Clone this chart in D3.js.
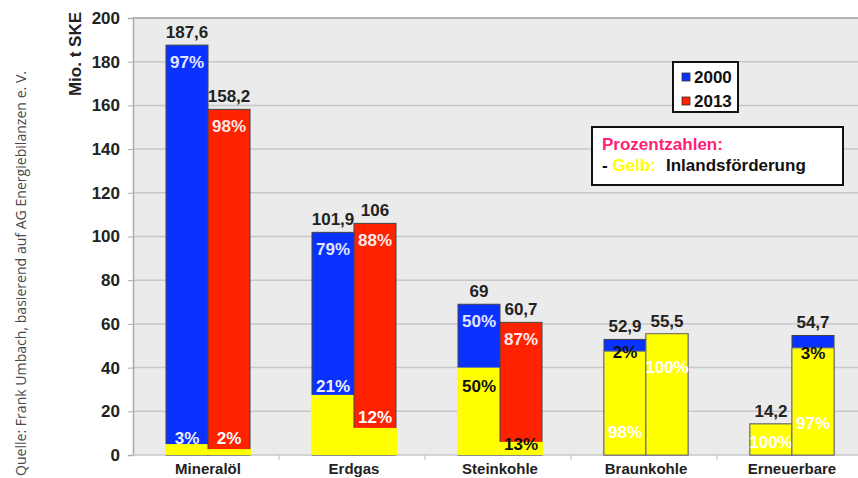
<!DOCTYPE html>
<html><head><meta charset="utf-8">
<script src="https://cdn.jsdelivr.net/npm/d3@7"></script>
<style>html,body{margin:0;padding:0;background:#fff;overflow:hidden}</style>
</head><body>
<svg id="c" width="858" height="478"></svg>
<script>
const categories = ["Mineralöl","Erdgas","Steinkohle","Braunkohle","Erneuerbare"];
const years = ["2000","2013"];
const total2000 = [187.6, 101.9, 69, 52.9, 14.2];
const total2013 = [158.2, 106, 60.7, 55.5, 54.7];
// yellow (domestic production) segment heights
const domestic2000 = [5, 27.5, 40, 47.5, 14.2];
const domestic2013 = [2.7, 12.4, 6, 55.5, 49];
const importPct2000 = ["97%","79%","50%","2%",""];
const importPct2013 = ["98%","88%","87%","","3%"];
const domesticPct2000 = ["3%","21%","50%","98%","100%"];
const domesticPct2013 = ["2%","12%","13%","100%","97%"];
const valueLabels2000 = ["187,6","101,9","69","52,9","14,2"];
const valueLabels2013 = ["158,2","106","60,7","55,5","54,7"];
const yTicks = [0,20,40,60,80,100,120,140,160,180,200];
// colour key used for the upper (import) part of each 2013 bar, as in the picture
const importColorKey2013 = ["2013","2013","2013","2013","2000"];

// annotation anchors (data units) for the percentage labels
const domLabelAt = {"2000":[7.8,31.6,31.6,10.5,5.9], "2013":[7.8,17.4,5,40.3,14.6]};
const domLabelColor = {"2000":["#eef","#eef","#111","#fff","#fff"], "2013":["#fff","#fff","#111","#fff","#fff"]};
const impLabelAt = {"2000":[null,null,null,47.1,null], "2013":[null,null,null,null,46.7]};

const colors = {"2000":"#0a32ff","2013":"#ff2200"};
const yellow = "#ffff00";
const FONT = "'Liberation Sans', Arial, sans-serif";

const svg = d3.select("#c");
const L = 133, T = 18, B = 455, R = 858;
const y = d3.scaleLinear().domain([0,200]).range([B, T]);
const x = d3.scaleBand().domain(categories).range([135, 865]).paddingInner(0).paddingOuter(0);
const xi = d3.scaleBand().domain(years).range([0, x.bandwidth()]).paddingInner(0).paddingOuter(0.738);

// plot background
svg.append("rect").attr("x", L).attr("y", T).attr("width", R-L).attr("height", B-T).attr("fill", "#ebebeb");

// gridlines
svg.append("g").selectAll("line").data(yTicks.filter(d=>d>0)).join("line")
  .attr("x1", L).attr("x2", R).attr("y1", d=>y(d)).attr("y2", d=>y(d))
  .attr("stroke", d=> d===200 ? "#b4b4b4" : "#c8c8c8").attr("stroke-width", d=> d===200 ? 2 : 1.5);

// y axis
const yAxis = d3.axisLeft(y).tickValues(yTicks).tickSize(5).tickPadding(8);
const ga = svg.append("g").attr("transform", `translate(${L},0)`).call(yAxis);
ga.select(".domain").attr("stroke", "#aaa").attr("stroke-width", 1.5);
ga.selectAll(".tick line").attr("stroke", "#aaa");
ga.selectAll(".tick text").attr("font-family", FONT).attr("font-weight", "bold")
  .attr("font-size", 17).attr("fill", "#222");

// bottom baseline and category ticks
svg.append("line").attr("x1", L).attr("x2", R).attr("y1", B).attr("y2", B).attr("stroke", "#c8c8c8").attr("stroke-width", 1.5);
svg.append("g").selectAll("line").data(categories.slice(1)).join("line")
  .attr("x1", d=>x(d)-2).attr("x2", d=>x(d)-2).attr("y1", B).attr("y2", B+5).attr("stroke", "#bbb");

// category labels
svg.append("g").selectAll("text").data(categories).join("text")
  .attr("x", d=>x(d)+x.bandwidth()/2).attr("y", 474).attr("text-anchor", "middle")
  .attr("font-family", FONT).attr("font-weight", "bold").attr("font-size", 15).attr("fill", "#222").text(d=>d);

const series = {
  "2000": {total: total2000, dom: domestic2000, imp: importPct2000, domP: domesticPct2000, vl: valueLabels2000},
  "2013": {total: total2013, dom: domestic2013, imp: importPct2013, domP: domesticPct2013, vl: valueLabels2013}
};

const gBars = svg.append("g");
years.forEach(yr => {
  const s = series[yr];
  categories.forEach((c, i) => {
    const bx = x(c) + xi(yr), bw = xi.bandwidth();
    const fillKey = yr === "2013" ? importColorKey2013[i] : yr;
    // full bar (import colour)
    gBars.append("rect").attr("x", bx).attr("y", y(s.total[i])).attr("width", bw)
      .attr("height", y(0)-y(s.total[i])).attr("fill", colors[fillKey]).attr("stroke", "#444").attr("stroke-width", 1);
    // domestic (yellow) segment
    const fullYellow = s.dom[i] / s.total[i] > 0.85;
    gBars.append("rect").attr("x", bx + (fullYellow?0:-1)).attr("y", y(s.dom[i])).attr("width", bw + (fullYellow?0:2))
      .attr("height", y(0)-y(s.dom[i])).attr("fill", yellow)
      .attr("stroke", fullYellow ? "#777" : "none").attr("stroke-width", 1);
    const cx = bx + bw/2;
    // value label above the bar
    gBars.append("text").attr("x", cx).attr("y", y(s.total[i]) - 7).attr("text-anchor", "middle")
      .attr("font-family", FONT).attr("font-weight", "bold").attr("font-size", 17).attr("fill", "#222").text(s.vl[i]);
    // import % label
    if (s.imp[i]) {
      const at = impLabelAt[yr][i];
      const ty = at === null ? y(s.total[i]) + 23 : y(at) + 6;
      gBars.append("text").attr("x", cx).attr("y", ty).attr("text-anchor", "middle")
        .attr("font-family", FONT).attr("font-weight", "bold").attr("font-size", 17)
        .attr("fill", at === null ? (yr==="2000" ? "#e4e4ff" : "#ffe8e8") : "#111").text(s.imp[i]);
    }
    // domestic % label
    gBars.append("text").attr("x", cx).attr("y", y(domLabelAt[yr][i]) + 6).attr("text-anchor", "middle")
      .attr("font-family", FONT).attr("font-weight", "bold").attr("font-size", 17)
      .attr("fill", domLabelColor[yr][i]).text(s.domP[i]);
  });
});

// y axis title
svg.append("text").attr("transform", "translate(81,12) rotate(-90)").attr("text-anchor", "end")
  .attr("font-family", FONT).attr("font-weight", "bold").attr("font-size", 17).attr("fill", "#222").text("Mio. t SKE");

// source note
svg.append("text").attr("transform", "translate(26,476) rotate(-90)").attr("text-anchor", "start")
  .attr("font-family", "'Open Sans', sans-serif").attr("font-weight", 400).attr("font-size", 14.3).attr("fill", "#4a4a4a")
  .attr("textLength", 405).attr("lengthAdjust", "spacingAndGlyphs")
  .text("Quelle: Frank Umbach, basierend auf AG Energiebilanzen e. V.");

// legend box
const lg = svg.append("g");
lg.append("rect").attr("x", 673).attr("y", 62).attr("width", 65).attr("height", 50)
  .attr("fill", "#fff").attr("stroke", "#111").attr("stroke-width", 2);
years.forEach((yr, k) => {
  const cy = 77 + k*24;
  lg.append("rect").attr("x", 682).attr("y", cy-4).attr("width", 8).attr("height", 8)
    .attr("fill", colors[yr]).attr("stroke", "#333").attr("stroke-width", 0.8);
  lg.append("text").attr("x", 694).attr("y", cy+6).attr("font-family", FONT).attr("font-weight", "bold")
    .attr("font-size", 17).attr("fill", "#111").text(yr);
});

// note box
const nb = svg.append("g");
nb.append("rect").attr("x", 592).attr("y", 127).attr("width", 251).attr("height", 58)
  .attr("fill", "#fff").attr("stroke", "#111").attr("stroke-width", 2);
nb.append("text").attr("x", 602).attr("y", 150).attr("font-family", FONT).attr("font-weight", "bold")
  .attr("font-size", 17).attr("fill", "#ff1f75").text("Prozentzahlen:");
const t2 = nb.append("text").attr("x", 602).attr("y", 171).attr("font-family", FONT).attr("font-weight", "bold").attr("font-size", 17);
t2.append("tspan").attr("fill", "#111").text("- ");
t2.append("tspan").attr("fill", "#ffff00").text("Gelb:");
t2.append("tspan").attr("x", 666).attr("fill", "#111").text("Inlandsförderung");
</script>
</body></html>
